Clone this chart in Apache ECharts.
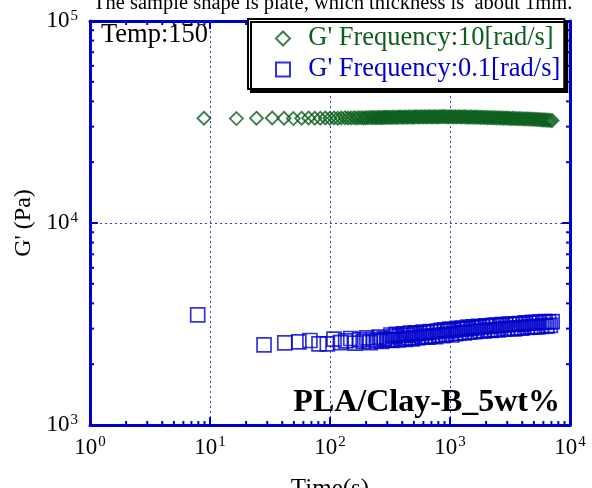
<!DOCTYPE html>
<html>
<head>
<meta charset="utf-8">
<script src="https://cdn.jsdelivr.net/npm/echarts@6/dist/echarts.min.js"></script>
<style>
  html, body { margin: 0; padding: 0; background: #fff; }
  #chart { width: 592px; height: 488px; }
</style>
</head>
<body>
<div id="chart"></div>
<script>
// G' at 10 rad/s (diamonds)
const greenTime = [8.9, 16.6, 24.4, 33.0, 41.4, 49.5, 58.0, 66.3, 74.6, 83.0,
  91.3, 99.6, 108, 116, 124, 133, 141, 149, 158, 166,
  174, 183, 191, 199, 207, 216, 224, 232, 241, 249,
  257, 266, 274, 282, 291,
  300, 311, 322, 333, 345, 357, 369, 382, 395, 409, 423, 438,
  453, 469, 486, 503, 520, 538, 557, 577, 597, 618, 639, 662,
  685, 709, 733, 759, 786, 813, 842, 871, 901, 933, 966, 1000,
  1035, 1071, 1108, 1147, 1187, 1229, 1272, 1316, 1362, 1410, 1459, 1510,
  1563, 1618, 1675, 1733, 1794, 1857, 1922, 1989, 2058, 2130, 2205, 2282,
  2362, 2445, 2530, 2619, 2710, 2805, 2903, 3005, 3110, 3219, 3332, 3448,
  3569, 3694, 3823, 3957, 4095, 4239, 4387, 4541, 4700, 4864, 5034, 5211,
  5393, 5582, 5777, 5979, 6189, 6405, 6630, 6862, 7100]
const greenG = [33000, 32900, 33000, 33100, 33000, 32900, 33000, 33100, 33000, 33000,
  33100, 33000, 33100, 33000, 33100, 33200, 33100, 33100, 33200, 33100,
  33200, 33200, 33100, 33200, 33200, 33300, 33200, 33300, 33200, 33300,
  33300, 33200, 33300, 33300, 33400,
  33300, 33400, 33300, 33400, 33400, 33300, 33400, 33500, 33400, 33400, 33500, 33400,
  33500, 33500, 33400, 33500, 33600, 33500, 33500, 33600, 33500, 33600, 33500, 33600,
  33600, 33500, 33600, 33600, 33500, 33600, 33600, 33700, 33600, 33600, 33500, 33600,
  33600, 33500, 33600, 33500, 33600, 33500, 33500, 33600, 33500, 33400, 33500, 33500,
  33400, 33500, 33400, 33400, 33300, 33400, 33300, 33300, 33200, 33300, 33200, 33200,
  33200, 33100, 33200, 33100, 33100, 33000, 33100, 33000, 33000, 32900, 33000, 32900,
  32900, 32800, 32900, 32800, 32800, 32700, 32800, 32700, 32700, 32600, 32600, 32600,
  32500, 32500, 32400, 32400, 32400, 32300, 32300, 32200, 32200]

// G' at 0.1 rad/s (squares)
const blueTime = [7.9, 28.2, 42, 55, 68, 81, 95, 108, 122, 135,
  149, 162, 176, 189, 203, 216, 230, 243, 257, 270,
  284, 297,
  311, 322, 333, 345, 357, 369, 382, 395, 409, 423, 438, 453,
  469, 486, 503, 520, 538, 557, 577, 597, 618, 639, 662, 685,
  709, 733, 759, 786, 813, 842, 871, 901, 933, 966, 1000, 1035,
  1071, 1108, 1147, 1187, 1229, 1272, 1316, 1362, 1410, 1459, 1510, 1563,
  1618, 1675, 1733, 1794, 1857, 1922, 1989, 2058, 2130, 2205, 2282, 2362,
  2445, 2530, 2619, 2710, 2805, 2903, 3005, 3110, 3219, 3332, 3448, 3569,
  3694, 3823, 3957, 4095, 4239, 4387, 4541, 4700, 4864, 5034, 5211, 5393,
  5582, 5777, 5979, 6189, 6405, 6630, 6862, 7100]
const blueG = [3510, 2490, 2550, 2580, 2620, 2520, 2520, 2660, 2560, 2610,
  2680, 2540, 2640, 2590, 2700, 2560, 2650, 2610, 2720, 2590,
  2680, 2640,
  2640, 2790, 2620, 2740, 2810, 2640, 2770, 2680, 2830, 2650, 2790, 2700,
  2850, 2670, 2790, 2860, 2700, 2830, 2730, 2880, 2740, 2860, 2720, 2900,
  2760, 2890, 2740, 2920, 2790, 2940, 2770, 2960, 2810, 2920, 2980, 2790,
  2950, 2830, 3010, 2850, 2970, 3020, 2860, 2990, 3050, 2880, 3010, 3060,
  2900, 3030, 3080, 2920, 3060, 2920, 3100, 2950, 3080, 2940, 3110, 2970,
  3120, 2960, 3100, 3140, 2980, 3130, 3000, 3160, 3010, 3150, 2990, 3170,
  3030, 3180, 3020, 3160, 3200, 3040, 3190, 3050, 3220, 3070, 3210, 3060,
  3230, 3080, 3220, 3250, 3090, 3240, 3110, 3250]

// minor tick values (2..9 of every decade)
const minorX = [2, 3, 4, 5, 6, 7, 8, 9, 20, 30, 40, 50, 60, 70, 80, 90,
  200, 300, 400, 500, 600, 700, 800, 900, 2000, 3000, 4000, 5000, 6000, 7000, 8000, 9000]
const minorY = [2000, 3000, 4000, 5000, 6000, 7000, 8000, 9000,
  20000, 30000, 40000, 50000, 60000, 70000, 80000, 90000]

const xRange = [1, 10000]
const yRange = [1000, 100000]

const blue = '#0000cc'
const green = '#0a5e1c'
const serif = 'Liberation Serif'

const chart = echarts.init(document.getElementById('chart'))

const powLabel = v => '{b|10}{s|' + Math.round(Math.log10(v)) + '}'
const labelRich = {
  b: { fontSize: 23, fontFamily: serif, color: '#000' },
  s: { fontSize: 15, fontFamily: serif, color: '#000', verticalAlign: 'top', padding: [0, 0, 10, 1] }
}
const gridDots = { show: true, lineStyle: { color: '#3a3ad8', type: [2, 3], width: 1 } }

function axisCommon(extra) {
  return Object.assign({
    type: 'log',
    logBase: 10,
    axisLine: { show: true, onZero: false, lineStyle: { color: blue, width: 3 } },
    axisTick: { show: true, inside: true, length: 8, lineStyle: { color: blue, width: 2 } },
    minorTick: { show: false },
    splitLine: { show: false }
  }, extra)
}

// short inside ticks drawn through the axes' own scales
function minorTicks(axisDim) {
  return function (params, api) {
    const lines = []
    const st = { stroke: blue, lineWidth: 2 }
    if (axisDim === 'x') {
      const v = api.value(0)
      const a = api.coord([v, yRange[0]])
      const b = api.coord([v, yRange[1]])
      lines.push({ type: 'line', shape: { x1: a[0], y1: a[1], x2: a[0], y2: a[1] - 4 }, style: st })
      lines.push({ type: 'line', shape: { x1: b[0], y1: b[1], x2: b[0], y2: b[1] + 4 }, style: st })
    } else {
      const v = api.value(1)
      const a = api.coord([xRange[0], v])
      const b = api.coord([xRange[1], v])
      lines.push({ type: 'line', shape: { x1: a[0], y1: a[1], x2: a[0] + 4, y2: a[1] }, style: st })
      lines.push({ type: 'line', shape: { x1: b[0], y1: b[1], x2: b[0] - 4, y2: b[1] }, style: st })
    }
    return { type: 'group', children: lines }
  }
}

chart.setOption({
  animation: false,
  backgroundColor: '#fff',
  grid: { left: 90, right: 22, top: 21, bottom: 63, outerBoundsMode: 'none', containLabel: false },
  xAxis: [
    axisCommon({
      position: 'bottom', min: xRange[0], max: xRange[1],
      name: 'Time(s)', nameLocation: 'middle', nameGap: 52,
      nameTextStyle: { fontSize: 25, fontFamily: serif, color: '#000' },
      axisLabel: { margin: 10, formatter: powLabel, rich: labelRich },
      splitLine: gridDots
    }),
    axisCommon({ position: 'top', min: xRange[0], max: xRange[1], axisLabel: { show: false } })
  ],
  yAxis: [
    axisCommon({
      position: 'left', min: yRange[0], max: yRange[1],
      name: "G' (Pa)", nameLocation: 'middle', nameGap: 53,
      nameTextStyle: { fontSize: 24, fontFamily: serif, color: '#000' },
      axisLabel: { margin: 12, formatter: powLabel, rich: labelRich },
      splitLine: gridDots
    }),
    axisCommon({ position: 'right', min: yRange[0], max: yRange[1], axisLabel: { show: false } })
  ],
  legend: {
    left: 248, top: 19,
    orient: 'vertical',
    padding: [6, 4, 6, 27],
    itemGap: 4,
    itemWidth: 14, itemHeight: 14,
    backgroundColor: '#fff',
    borderColor: '#000', borderWidth: 2,
    shadowColor: '#000', shadowBlur: 0, shadowOffsetX: 3, shadowOffsetY: 3,
    formatter: name => '  ' + name,
    textStyle: { fontSize: 26.5, fontFamily: serif },
    data: [
      { name: "G' Frequency:10[rad/s]", textStyle: { color: green } },
      { name: "G' Frequency:0.1[rad/s]", textStyle: { color: blue } }
    ],
    z: 10
  },
  graphic: [
    {
      type: 'text', left: 93, top: -7, z: 20,
      style: { text: 'The sample shape is plate, which thickness is  about 1mm.', font: '20.5px "Liberation Serif"', fill: '#000' }
    },
    {
      type: 'text', left: 101, top: 22, z: 20,
      style: { text: 'Temp:150', font: '26.5px "Liberation Serif"', fill: '#000' }
    },
    {
      type: 'text', right: 32, top: 387, z: 20,
      style: { text: 'PLA/Clay-B_5wt%', font: 'bold 32px "Liberation Serif"', fill: '#000' }
    }
  ],
  series: [
    {
      name: "G' Frequency:10[rad/s]",
      type: 'scatter',
      symbol: 'diamond',
      symbolSize: 13,
      itemStyle: { color: 'rgba(0,0,0,0)', borderColor: green, borderWidth: 1.8 },
      data: greenTime.map((t, i) => [t, greenG[i]])
    },
    {
      name: "G' Frequency:0.1[rad/s]",
      type: 'scatter',
      symbol: 'rect',
      symbolSize: 14,
      itemStyle: { color: 'rgba(0,0,0,0)', borderColor: blue, borderWidth: 1.7 },
      data: blueTime.map((t, i) => [t, blueG[i]])
    },
    {
      type: 'custom', silent: true, clip: false,
      renderItem: minorTicks('x'),
      data: minorX.map(v => [v, yRange[0]])
    },
    {
      type: 'custom', silent: true, clip: false,
      renderItem: minorTicks('y'),
      data: minorY.map(v => [xRange[0], v])
    }
  ]
})
</script>
</body>
</html>
